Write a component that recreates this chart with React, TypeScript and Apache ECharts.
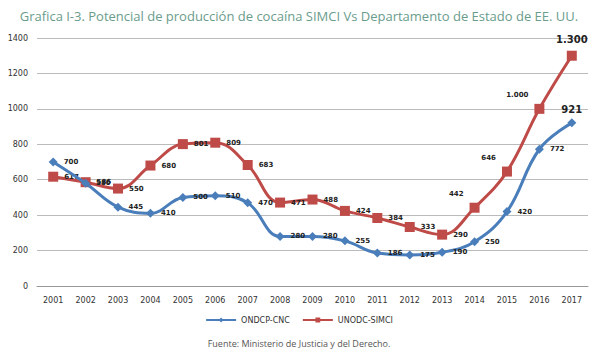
import React, { useEffect, useRef } from "react";
import * as echarts from "echarts";

const years = ["2001","2002","2003","2004","2005","2006","2007","2008","2009","2010","2011","2012","2013","2014","2015","2016","2017"];
const ondcp = [700, 580, 445, 410, 500, 510, 470, 280, 280, 255, 186, 175, 190, 250, 420, 772, 921];
const unodc = [617, 586, 550, 680, 801, 809, 683, 471, 488, 424, 384, 333, 290, 442, 646, 1000, 1300];
const yTicks = [0, 200, 400, 600, 800, 1000, 1200, 1400];

const fmt = (v: number) => String(v).replace(/\B(?=(\d{3})+(?!\d))/g, ".");

export default function App() {
  const ref = useRef<HTMLDivElement>(null);
  useEffect(() => {
    document.body.style.margin = "0";
    const chart = echarts.init(ref.current!, null, { renderer: "svg" });
    const smallLabel = { show: true, position: "right", fontSize: 7, fontWeight: "bold", color: "#222", fontFamily: "DejaVu Sans", distance: 6 };
    const blueData = ondcp.map((v, i) => {
      const d: any = { value: v };
      if (i === ondcp.length - 1) d.label = { position: "top", fontSize: 10, distance: 4 };
      return d;
    });
    const redData = unodc.map((v, i) => {
      const d: any = { value: v };
      if (i === unodc.length - 1) d.label = { position: "top", fontSize: 10, distance: 6 };
      else if (i === 13 || i === 14 || i === 15) d.label = { position: "left", offset: [0, -14] };
      return d;
    });
    chart.setOption({
      animation: false,
      backgroundColor: "#fff",
      title: {
        text: "Grafica I-3. Potencial de producción de cocaína SIMCI Vs Departamento de Estado de EE. UU.",
        left: "center",
        top: 4,
        textStyle: { fontSize: 13, fontWeight: "normal", color: "#6a9c8c", fontFamily: "Open Sans" },
      },
      legend: {
        top: 311,
        left: "center",
        itemWidth: 30,
        itemHeight: 6,
        itemGap: 12,
        textStyle: { fontSize: 8, color: "#333", fontFamily: "DejaVu Sans" },
        data: ["ONDCP-CNC", "UNODC-SIMCI"],
      },
      graphic: [{
        type: "text",
        left: "center",
        top: 339,
        style: { text: "Fuente: Ministerio de Justicia y del Derecho.", fontSize: 9, fill: "#555", fontFamily: "Open Sans" },
      }],
      grid: { left: 37, right: 10, top: 38, bottom: 75 },
      xAxis: {
        type: "category",
        data: years,
        boundaryGap: true,
        axisLine: { lineStyle: { color: "#999" } },
        axisTick: { show: false },
        axisLabel: { fontSize: 8, color: "#333", fontFamily: "DejaVu Sans", margin: 10 },
      },
      yAxis: {
        type: "value",
        min: yTicks[0],
        max: yTicks[yTicks.length - 1],
        interval: 200,
        axisLine: { show: false },
        axisTick: { show: false },
        axisLabel: { fontSize: 8, color: "#333", fontFamily: "DejaVu Sans", margin: 9, formatter: (v: number) => String(v) },
        splitLine: { lineStyle: { color: "#bbb", width: 1 } },
      },
      series: [
        {
          name: "ONDCP-CNC",
          type: "line",
          smooth: 0.4,
          data: blueData,
          symbol: "diamond",
          symbolSize: 9,
          color: "#4a7ebb",
          lineStyle: { width: 3, color: "#4a7ebb" },
          itemStyle: { color: "#4a7ebb" },
          label: { ...smallLabel, formatter: (p: any) => fmt(p.value) },
          z: 3,
        },
        {
          name: "UNODC-SIMCI",
          type: "line",
          smooth: 0.4,
          data: redData,
          symbol: "rect",
          symbolSize: 10,
          color: "#be4b48",
          lineStyle: { width: 3, color: "#be4b48" },
          itemStyle: { color: "#be4b48" },
          label: { ...smallLabel, formatter: (p: any) => fmt(p.value) },
          z: 2,
        },
      ],
    });
    return () => chart.dispose();
  }, []);
  return <div ref={ref} style={{ width: 598, height: 361 }} />;
}
